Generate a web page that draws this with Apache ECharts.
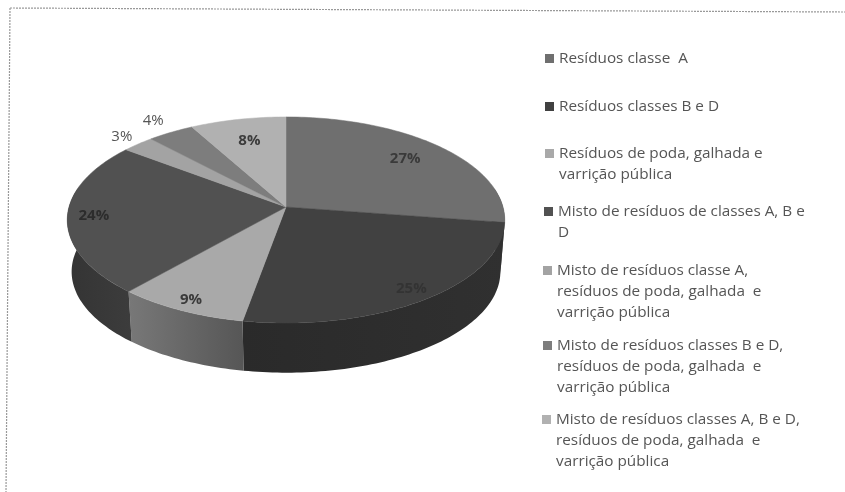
<!DOCTYPE html>
<html><head><meta charset="utf-8">
<style>html,body{margin:0;padding:0;background:#fff}#c{width:845px;height:492px;filter:blur(0.6px)}</style>
<script src="https://cdn.jsdelivr.net/npm/echarts@6/dist/echarts.min.js"></script>
</head><body><div id="c"></div>
<script>
const categories = [
  "Resíduos classe A",
  "Resíduos classes B e D",
  "Resíduos de poda, galhada e varrição pública",
  "Misto de resíduos de classes A, B e D",
  "Misto de resíduos classe A, resíduos de poda, galhada e varrição pública",
  "Misto de resíduos classes B e D, resíduos de poda, galhada e varrição pública",
  "Misto de resíduos classes A, B e D, resíduos de poda, galhada e varrição pública"
];
const legendLabels = [
  "Resíduos classe  A",
  "Resíduos classes B e D",
  "Resíduos de poda, galhada e\nvarrição pública",
  "Misto de resíduos de classes A, B e\nD",
  "Misto de resíduos classe A,\nresíduos de poda, galhada  e\nvarrição pública",
  "Misto de resíduos classes B e D,\nresíduos de poda, galhada  e\nvarrição pública",
  "Misto de resíduos classes A, B e D,\nresíduos de poda, galhada  e\nvarrição pública"
];
const values = [27.4, 25.4, 8.6, 24, 2.7, 3.9, 8];

const topColors = ['#6f6f6f','#414141','#a9a9a9','#515151','#a3a3a3','#7d7d7d','#b1b1b1'];
const hGrad = (a,b)=>({type:'linear',x:0,y:0,x2:1,y2:0,colorStops:[{offset:0,color:a},{offset:1,color:b}]});
const wallColors = ['#4a4a4a',hGrad('#2a2a2a','#303030'),hGrad('#787878','#565656'),hGrad('#343434','#3c3c3c'),'#777','#555','#888'];
const labelRadius = [0.77,0.90,0.91,0.88,1.12,1.17,0.74];
const labelColors = ['#3a3a3a','#333','#3a3a3a','#2c2c2c','#555','#555','#3c3c3c'];
const labelWeights = ['bold','bold','bold','bold','normal','normal','bold'];
const legendTops = [48,96,143,201,260,335,409];
const legendLefts = [545,545,545,544,543,543,542];

const total = values.reduce((a,b)=>a+b,0);
const starts = values.map((_,i)=>values.slice(0,i).reduce((a,b)=>a+b,0)/total*Math.PI*2);
const ends = values.map((_,i)=>values.slice(0,i+1).reduce((a,b)=>a+b,0)/total*Math.PI*2);

// projective mapping of the pie plane onto the screen
const K=0.126, A=217, B=101.4, X0=286, Y0=207;
function proj(th,r,s,dy){
  r = r===undefined?1:r; s=s||1; dy=dy||0;
  const u=r*Math.sin(th), v=-r*Math.cos(th), w=1-K*v;
  return [X0+s*A*u/w, Y0+dy+s*B*v/w];
}
function arc(a,b,s,dy){
  const n=Math.max(2,Math.ceil((b-a)/0.02)), out=[];
  for(let i=0;i<=n;i++) out.push(proj(a+(b-a)*i/n,1,s,dy));
  return out;
}
const DEPTH=52, BOTTOM=0.98;

function renderTop(i){
  return function(params,api){
    const pts=[[X0,Y0]].concat(arc(starts[i],ends[i]));
    const mid=(starts[i]+ends[i])/2, lp=proj(mid,labelRadius[i]);
    return {type:'group',children:[
      {type:'polygon',shape:{points:pts},style:{fill:topColors[i],stroke:topColors[i],lineWidth:0.5}},
      {type:'text',z2:10,style:{x:lp[0],y:lp[1],text:Math.round(values[i]/total*100)+'%',
        fill:labelColors[i],font:labelWeights[i]+' 15px "Open Sans"',align:'center',verticalAlign:'middle'}}
    ]};
  };
}
function renderWalls(params,api){
  const i=params.dataIndex;
  const a=Math.max(starts[i],Math.PI*0.44), b=Math.min(ends[i],Math.PI*1.56);
  if(b<=a) return {type:'group',children:[]};
  const top=arc(a,b), bot=arc(a,b,BOTTOM,DEPTH).reverse();
  return {type:'polygon',shape:{points:top.concat(bot)},style:{fill:wallColors[i]}};
}

const iconFor = lines => 'path://M0,0h9zM0,6h9v9h-9zM0,'+(lines*21)+'h9z';

const series=[{type:'custom',name:'walls',coordinateSystem:'none',z:1,silent:true,
  data:values,renderItem:renderWalls}];
categories.forEach((name,i)=>series.push({
  type:'custom',name,coordinateSystem:'none',z:2,silent:true,
  data:[values[i]],itemStyle:{color:topColors[i]},renderItem:renderTop(i)
}));

const legend=categories.map((name,i)=>{
  const lines=legendLabels[i].split('\n').length;
  return {
    data:[{name,icon:iconFor(lines)}],orient:'vertical',left:legendLefts[i],top:legendTops[i],padding:0,
    itemWidth:9,itemHeight:lines*21,selectedMode:false,
    itemStyle:{borderWidth:0},
    formatter:()=>legendLabels[i],
    textStyle:{color:'#555',fontFamily:'"Open Sans"',fontSize:15.3,lineHeight:21}
  };
});

const chart=echarts.init(document.getElementById('c'),null,{renderer:'canvas'});
chart.setOption({
  animation:false,backgroundColor:'#fff',
  legend,series,
  graphic:[
    {type:'line',shape:{x1:10,y1:8,x2:845,y2:12},style:{stroke:'#999',lineWidth:1.2,lineDash:[2,1]}},
    {type:'line',shape:{x1:10,y1:8,x2:6,y2:492},style:{stroke:'#999',lineWidth:1.2,lineDash:[2,1]}}
  ]
});
</script></body></html>
